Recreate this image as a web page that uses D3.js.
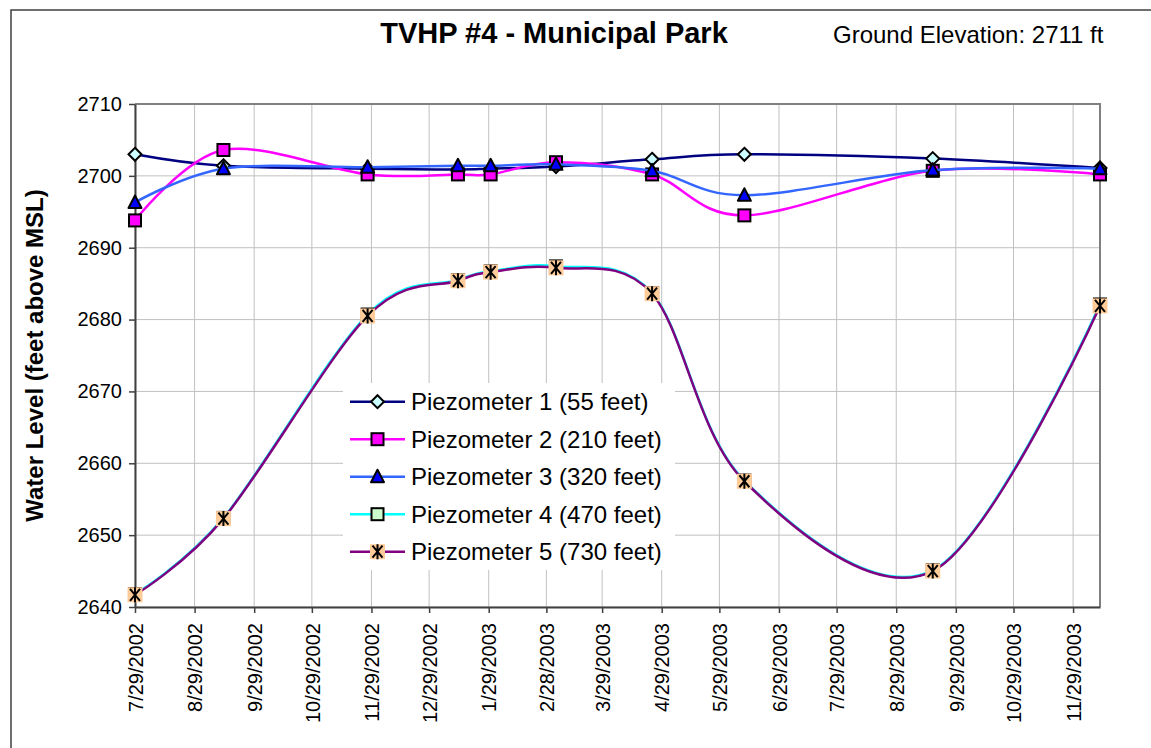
<!DOCTYPE html>
<html>
<head>
<meta charset="utf-8">
<script src="https://cdn.jsdelivr.net/npm/d3@7"></script>
<style>
    body { margin: 0; background: #fff; }
    svg { display: block; font-family: "Liberation Sans", Arial, sans-serif; }
</style>
</head>
<body>
<svg id="chart" width="1151" height="748"></svg>
<script>
// sample dates and water levels
let sampleDates = ["7/29/2002", "9/13/2002", "11/27/2002", "1/13/2003", "1/30/2003",
    "3/5/2003", "4/24/2003", "6/11/2003", "9/17/2003", "12/13/2003"];
let piezo1 = [2703.0, 2701.4, 2701.0, 2700.9, 2701.0, 2701.3, 2702.3, 2703.0, 2702.4, 2701.1];
let piezo2 = [2693.8, 2703.6, 2700.2, 2700.2, 2700.2, 2701.9, 2700.2, 2694.5, 2700.7, 2700.2];
let piezo3 = [2696.3, 2701.0, 2701.2, 2701.4, 2701.4, 2701.6, 2700.7, 2697.3, 2700.8, 2701.0];
let piezo4 = [2641.8, 2652.4, 2680.7, 2685.5, 2686.7, 2687.4, 2683.7, 2657.6, 2645.1, 2682.1];
let piezo5 = [2641.7, 2652.3, 2680.5, 2685.4, 2686.6, 2687.2, 2683.6, 2657.5, 2645.0, 2681.9];

let seriesNames = ["Piezometer 1 (55 feet)", "Piezometer 2 (210 feet)", "Piezometer 3 (320 feet)",
    "Piezometer 4 (470 feet)", "Piezometer 5 (730 feet)"];

let xTickLabels = ["7/29/2002", "8/29/2002", "9/29/2002", "10/29/2002", "11/29/2002", "12/29/2002",
    "1/29/2003", "2/28/2003", "3/29/2003", "4/29/2003", "5/29/2003", "6/29/2003", "7/29/2003",
    "8/29/2003", "9/29/2003", "10/29/2003", "11/29/2003"];
let yTicks = [2640, 2650, 2660, 2670, 2680, 2690, 2700, 2710];

let parseDate = d3.timeParse("%m/%d/%Y");
let dates = sampleDates.map(parseDate);
let tickDates = xTickLabels.map(parseDate);

let series = [
    {name: seriesNames[0], values: piezo1, color: "#000080", marker: "diamond", fill: "#ccffff"},
    {name: seriesNames[1], values: piezo2, color: "#ff00ff", marker: "square", fill: "#ff00ff"},
    {name: seriesNames[2], values: piezo3, color: "#3366ff", marker: "triangle", fill: "#0000ff"},
    {name: seriesNames[3], values: piezo4, color: "#00ffff", marker: "square", fill: "#ccffcc"},
    {name: seriesNames[4], values: piezo5, color: "#800080", marker: "star", fill: "#ffcc99"}
];

let plot = {left: 135, right: 1100, top: 104, bottom: 607};

let svg = d3.select("#chart");

// outer chart border
svg.append("rect")
    .attr("x", 11).attr("y", 10)
    .attr("width", 1300).attr("height", 900)
    .attr("fill", "none")
    .attr("stroke", "#404040")
    .attr("stroke-width", 1.5);

let x = d3.scaleTime().domain(d3.extent(dates)).range([plot.left, plot.right]);
let y = d3.scaleLinear().domain([2640, 2710]).range([plot.bottom, plot.top]);

// gridlines
svg.append("g").selectAll("line.h")
    .data(yTicks)
    .join("line")
    .attr("x1", plot.left).attr("x2", plot.right)
    .attr("y1", d => y(d)).attr("y2", d => y(d))
    .attr("stroke", "#c0c0c0").attr("stroke-width", 1);

svg.append("g").selectAll("line.v")
    .data(tickDates)
    .join("line")
    .attr("x1", d => x(d)).attr("x2", d => x(d))
    .attr("y1", plot.top).attr("y2", plot.bottom)
    .attr("stroke", "#c0c0c0").attr("stroke-width", 1);

// top and right frame
svg.append("path")
    .attr("d", "M" + plot.left + "," + plot.top + "H" + plot.right + "V" + plot.bottom)
    .attr("fill", "none")
    .attr("stroke", "#808080")
    .attr("stroke-width", 2);

// axes
let yAxis = d3.axisLeft(y).tickValues(yTicks).tickSize(6).tickSizeOuter(0).tickFormat(d3.format("d"));
let xAxis = d3.axisBottom(x).tickValues(tickDates).tickSize(6).tickSizeOuter(0)
    .tickFormat((d, i) => xTickLabels[i]);

let yAxisG = svg.append("g")
    .attr("transform", "translate(" + plot.left + ",0)")
    .call(yAxis);
yAxisG.select(".domain").attr("stroke", "#404040").attr("stroke-width", 2);
yAxisG.selectAll(".tick line").attr("stroke", "#404040").attr("stroke-width", 1.5);
yAxisG.selectAll(".tick text")
    .attr("x", -13)
    .attr("font-size", 20)
    .attr("font-family", "Liberation Sans, Arial, sans-serif")
    .attr("fill", "#000");

let xAxisG = svg.append("g")
    .attr("transform", "translate(0," + plot.bottom + ")")
    .call(xAxis);
xAxisG.select(".domain").attr("stroke", "#404040").attr("stroke-width", 2);
xAxisG.selectAll(".tick line").attr("stroke", "#404040").attr("stroke-width", 1.5);
xAxisG.selectAll(".tick text")
    .attr("transform", "rotate(-90)")
    .attr("text-anchor", "end")
    .attr("x", -16)
    .attr("y", 0)
    .attr("dy", "0.36em")
    .attr("font-size", 20)
    .attr("font-family", "Liberation Sans, Arial, sans-serif")
    .attr("fill", "#000");

function drawMarker(g, type, fill) {
    if (type === "diamond") {
        g.append("path").attr("d", "M0,-6.5L6.5,0L0,6.5L-6.5,0Z")
            .attr("fill", fill).attr("stroke", "#000").attr("stroke-width", 2);
    } else if (type === "square") {
        g.append("rect").attr("x", -6).attr("y", -6).attr("width", 12).attr("height", 12)
            .attr("fill", fill).attr("stroke", "#000").attr("stroke-width", 2);
    } else if (type === "triangle") {
        g.append("path").attr("d", "M0,-7L6.5,5.5L-6.5,5.5Z")
            .attr("fill", fill).attr("stroke", "#000").attr("stroke-width", 2)
            .attr("stroke-linejoin", "round");
    } else {
        g.append("rect").attr("x", -7.5).attr("y", -7.5).attr("width", 15).attr("height", 15)
            .attr("fill", fill);
        g.append("path").attr("d", "M-5,-6L5,6M5,-6L-5,6M0,-7.5L0,7.5")
            .attr("stroke", "#000").attr("stroke-width", 2).attr("fill", "none");
    }
}

let line = d3.line()
    .x((d, i) => x(dates[i]))
    .y(d => y(d))
    .curve(d3.curveCardinal.tension(0));

for (let s of series) {
    let g = svg.append("g");
    g.append("path")
        .datum(s.values)
        .attr("d", line)
        .attr("fill", "none")
        .attr("stroke", s.color)
        .attr("stroke-width", 2.5);
    s.values.forEach(function (v, i) {
        let m = g.append("g").attr("transform", "translate(" + x(dates[i]) + "," + y(v) + ")");
        drawMarker(m, s.marker, s.fill);
    });
}

// legend
let legend = svg.append("g");
legend.append("rect")
    .attr("x", 343).attr("y", 383)
    .attr("width", 332).attr("height", 187)
    .attr("fill", "#fff");

series.forEach(function (s, i) {
    let rowY = 401.7 + i * 37.5;
    let row = legend.append("g").attr("transform", "translate(0," + rowY + ")");
    row.append("line")
        .attr("x1", 350).attr("x2", 405)
        .attr("stroke", s.color).attr("stroke-width", 2.5);
    let m = row.append("g").attr("transform", "translate(377.5,0)");
    drawMarker(m, s.marker, s.fill);
    row.append("text")
        .attr("x", 411).attr("dy", "0.36em")
        .attr("font-size", 24)
        .attr("fill", "#000")
        .text(s.name);
});

// titles
svg.append("text")
    .attr("x", 554).attr("y", 43)
    .attr("text-anchor", "middle")
    .attr("font-size", 29)
    .attr("font-weight", "bold")
    .text("TVHP #4 - Municipal Park");

svg.append("text")
    .attr("x", 833).attr("y", 43)
    .attr("font-size", 24)
    .text("Ground Elevation: 2711 ft");

svg.append("text")
    .attr("transform", "translate(43," + ((plot.top + plot.bottom) / 2) + ") rotate(-90)")
    .attr("text-anchor", "middle")
    .attr("font-size", 24)
    .attr("font-weight", "bold")
    .text("Water Level (feet above MSL)");
</script>
</body>
</html>
